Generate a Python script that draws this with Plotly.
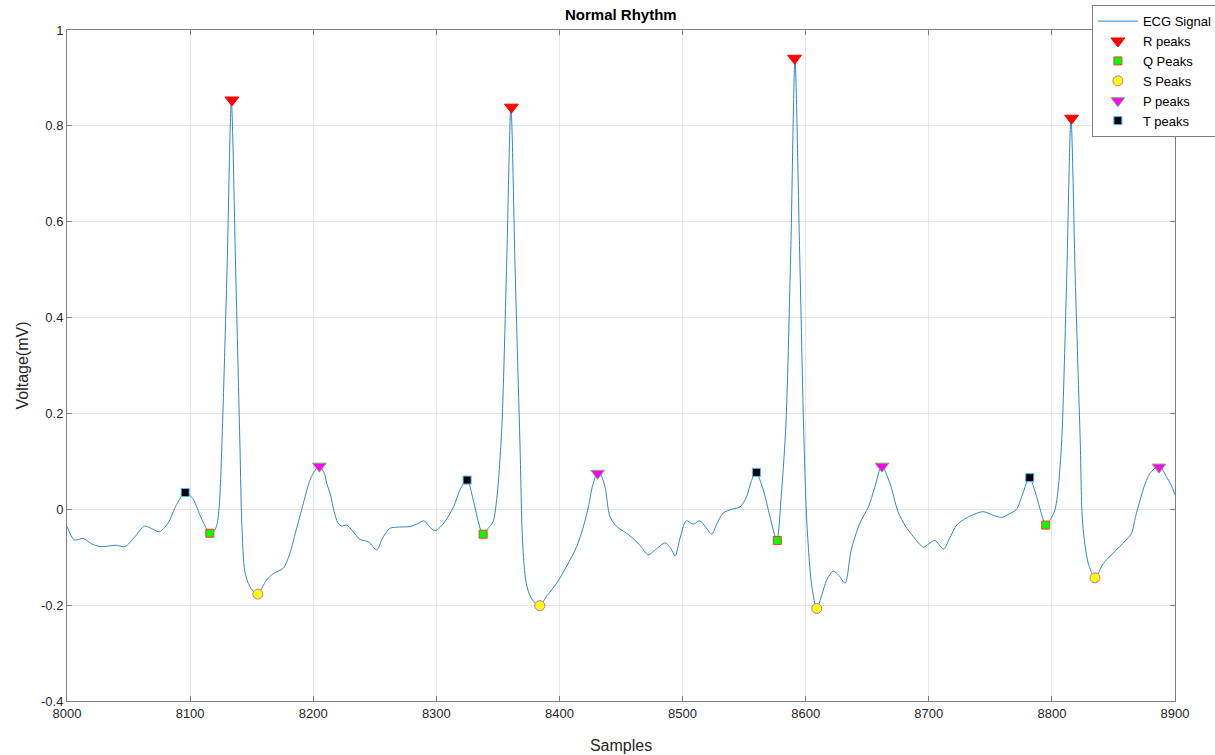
import plotly.graph_objects as go

# ---- ECG signal (samples, voltage in mV) ----
ecg_samples = [
    8000, 8006, 8013, 8020, 8027, 8040, 8047, 8055, 8063, 8070, 8075, 8082, 8089, 8096, 8102,
    8108, 8111, 8116, 8120, 8122, 8124, 8126, 8130, 8133.5, 8137, 8140.5, 8142, 8144.5, 8148.5,
    8154.6, 8162, 8167.6, 8175.7, 8181, 8186, 8192, 8198, 8204.5, 8209, 8211, 8214, 8217, 8220,
    8223, 8227, 8232, 8238, 8245, 8251.6, 8256, 8262, 8270, 8278.6, 8285, 8290, 8295, 8299, 8304,
    8308, 8314, 8320, 8325, 8330, 8334, 8337.6, 8342, 8346, 8349, 8353, 8357, 8360.6, 8364, 8368,
    8370, 8373, 8377, 8383.6, 8390, 8397.8, 8406, 8414, 8419, 8423.5, 8427, 8431, 8433, 8437,
    8441, 8446.5, 8454.6, 8462.7, 8467, 8472, 8479, 8485.7, 8490, 8494, 8498, 8503, 8508.7, 8514,
    8519, 8523.6, 8528, 8533, 8540, 8546.7, 8552, 8556, 8559.7, 8565.6, 8571, 8576.5, 8580.5, 8584,
    8588, 8591.3, 8595, 8598.6, 8601, 8605, 8609, 8613, 8617, 8622.4, 8627, 8632, 8637, 8644, 8651,
    8656, 8661.8, 8668.5, 8675, 8681, 8687.5, 8695.6, 8700, 8705, 8712, 8717, 8722.7, 8728, 8733.5,
    8744, 8752, 8759, 8765, 8771, 8776, 8781.7, 8787.6, 8791, 8795, 8799, 8802.5, 8805, 8808, 8812,
    8815.5, 8819, 8823, 8825, 8829.6, 8835, 8841.8, 8848, 8855, 8860, 8864.7, 8868, 8871.6, 8876,
    8879.7, 8886.5, 8890, 8893, 8897, 8900,
]
ecg_voltage = [
    -0.036, -0.064, -0.061, -0.072, -0.078, -0.075, -0.078, -0.058, -0.035, -0.042, -0.047, -0.029, 0.010, 0.035, 0.023,
    -0.012, -0.029, -0.050, -0.043, -0.030, 0.020, 0.150, 0.500, 0.850, 0.500, 0.130, -0.030, -0.130, -0.161,
    -0.177, -0.148, -0.134, -0.123, -0.092, -0.045, 0.0125, 0.065, 0.090, 0.075, 0.054, 0.030, -0.005, -0.028,
    -0.035, -0.033, -0.045, -0.063, -0.068, -0.085, -0.062, -0.040, -0.037, -0.036, -0.030, -0.024, -0.038, -0.045, -0.035,
    -0.022, 0.005, 0.045, 0.061, 0.019, -0.025, -0.052, -0.040, -0.026, 0.020, 0.160, 0.500, 0.840, 0.500, 0.130,
    -0.064, -0.154, -0.185, -0.201, -0.180, -0.154, -0.118, -0.078, -0.040, 0.005, 0.050, 0.077, 0.075, 0.047,
    -0.015, -0.036, -0.050, -0.068, -0.080, -0.095, -0.082, -0.070, -0.080, -0.097, -0.060, -0.024, -0.031, -0.024,
    -0.038, -0.052, -0.030, -0.008, 0.000, 0.005, 0.026, 0.060, 0.077, 0.040, -0.015, -0.064, 0.040, 0.180,
    0.550, 0.937, 0.550, 0.145, -0.030, -0.161, -0.207, -0.180, -0.148, -0.129, -0.138, -0.154, -0.085, -0.029, 0.005,
    0.045, 0.090, 0.054, -0.005, -0.035, -0.057, -0.079, -0.072, -0.065, -0.083, -0.060, -0.033, -0.022, -0.014,
    -0.005, -0.012, -0.017, -0.010, -0.001, 0.030, 0.066, 0.026, -0.005, -0.033, -0.020, -0.001, 0.040, 0.145, 0.480,
    0.816, 0.480, 0.145, -0.030, -0.113, -0.143, -0.113, -0.096, -0.078, -0.065, -0.050, -0.015, 0.019, 0.055,
    0.075, 0.090, 0.082, 0.068, 0.050, 0.030,
]

# ---- detected peaks ----
r_x = [8134, 8361, 8591, 8816]
r_y = [0.854, 0.839, 0.941, 0.816]
q_x = [8116, 8338, 8577, 8795]
q_y = [-0.050, -0.052, -0.065, -0.033]
s_x = [8155, 8384, 8609, 8835]
s_y = [-0.177, -0.201, -0.207, -0.143]
p_x = [8205, 8431, 8662, 8887]
p_y = [0.090, 0.075, 0.090, 0.088]
t_x = [8096, 8325, 8560, 8782]
t_y = [0.035, 0.061, 0.077, 0.066]

x_ticks = [8000, 8100, 8200, 8300, 8400, 8500, 8600, 8700, 8800, 8900]
y_ticks = [-0.4, -0.2, 0, 0.2, 0.4, 0.6, 0.8, 1]
y_ticktext = ["-0.4", "-0.2", "0", "0.2", "0.4", "0.6", "0.8", "1"]

fig = go.Figure()
fig.add_trace(go.Scatter(
    x=ecg_samples, y=ecg_voltage, mode="lines", name="ECG Signal",
    line=dict(color="#2f86cc", width=1, shape="spline", smoothing=0.8),
))
fig.add_trace(go.Scatter(
    x=r_x, y=r_y, mode="markers", name="R peaks",
    marker=dict(symbol="triangle-down", size=12, color="#ff0000", line=dict(color="#ff0000", width=1)),
))
fig.add_trace(go.Scatter(
    x=q_x, y=q_y, mode="markers", name="Q Peaks",
    marker=dict(symbol="square", size=8, color="#00ff00", line=dict(color="#ff3b1f", width=1)),
))
fig.add_trace(go.Scatter(
    x=s_x, y=s_y, mode="markers", name="S Peaks",
    marker=dict(symbol="circle", size=10, color="#ffff00", line=dict(color="#c070c0", width=1)),
))
fig.add_trace(go.Scatter(
    x=p_x, y=p_y, mode="markers", name="P peaks",
    marker=dict(symbol="triangle-down", size=12, color="#ff00ff", line=dict(color="#80b060", width=1)),
))
fig.add_trace(go.Scatter(
    x=t_x, y=t_y, mode="markers", name="T peaks",
    marker=dict(symbol="square", size=8, color="#000000", line=dict(color="#4db8ff", width=1)),
))

axis_common = dict(
    showline=True, linecolor="#808080", linewidth=1, mirror="ticks",
    ticks="inside", ticklen=5, tickcolor="#808080",
    showgrid=True, gridcolor="#e6e6e6", gridwidth=1, zeroline=False,
    tickfont=dict(family="Liberation Sans, Arial", size=13, color="#262626"),
)

fig.update_layout(
    width=1215, height=755,
    margin=dict(l=67, r=40, t=30, b=54, autoexpand=False),
    paper_bgcolor="white", plot_bgcolor="white",
    title=dict(text="<b>Normal Rhythm</b>", x=0.511, xanchor="center", y=0.98, yanchor="middle",
               font=dict(family="Liberation Sans, Arial", size=15, color="#000000")),
    xaxis=dict(range=[8000, 8900], tickvals=x_ticks,
               title=dict(text="Samples", standoff=20,
                          font=dict(family="Liberation Sans, Arial", size=16, color="#262626")),
               **axis_common),
    yaxis=dict(range=[-0.4, 1], tickvals=y_ticks, ticktext=y_ticktext,
               title=dict(text="Voltage(mV)", standoff=8,
                          font=dict(family="Liberation Sans, Arial", size=16, color="#262626")),
               **axis_common),
    legend=dict(x=0.925, y=1.037, xanchor="left", yanchor="top",
                bgcolor="white", bordercolor="#808080", borderwidth=1,
                font=dict(family="Liberation Sans, Arial", size=13, color="#000000"),
                itemwidth=40, tracegroupgap=0),
    showlegend=True,
)

fig.write_html("out.html")
